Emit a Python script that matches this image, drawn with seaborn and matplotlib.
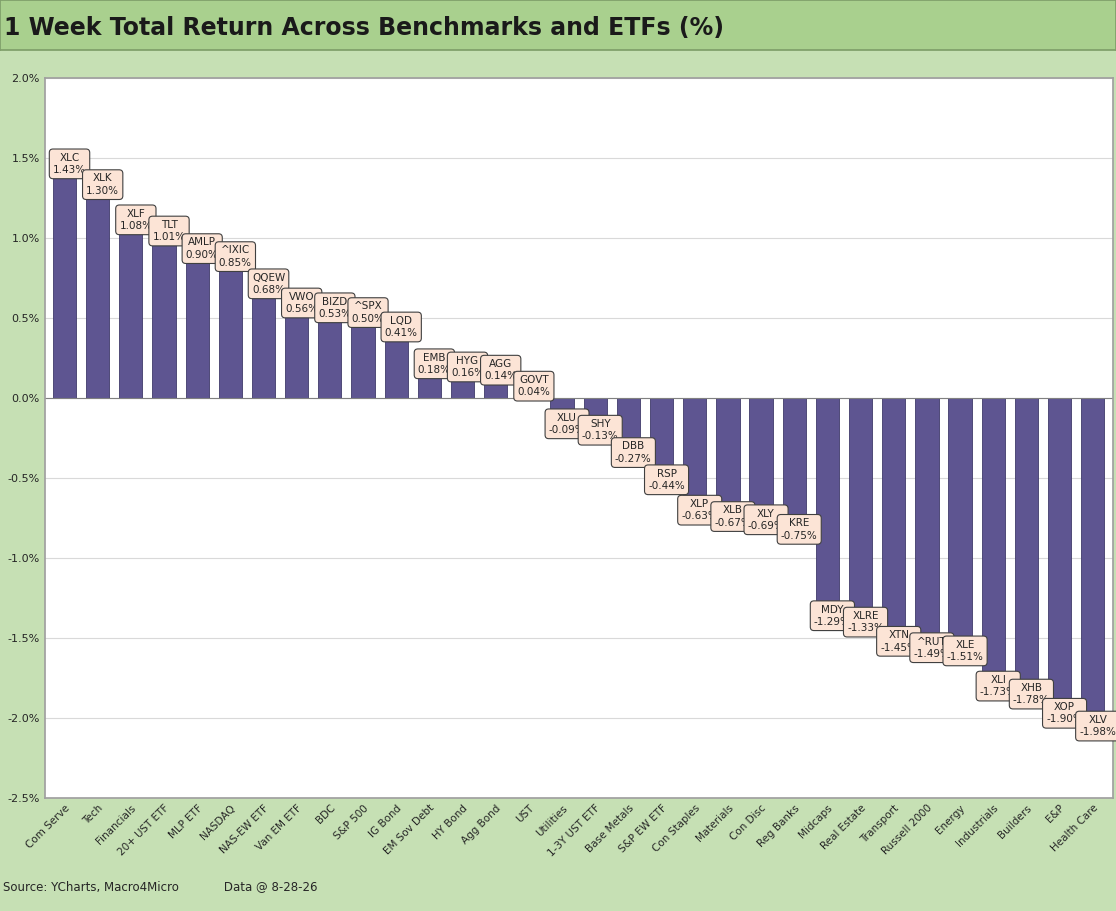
import numpy as np
import pandas as pd
import seaborn as sns
import matplotlib.pyplot as plt
from matplotlib.ticker import FuncFormatter

categories = ["Com Serve", "Tech", "Financials", "20+ UST ETF", "MLP ETF", "NASDAQ",
              "NAS-EW ETF", "Van EM ETF", "BDC", "S&P 500", "IG Bond", "EM Sov Debt",
              "HY Bond", "Agg Bond", "UST", "Utilities", "1-3Y UST ETF", "Base Metals",
              "S&P EW ETF", "Con Staples", "Materials", "Con Disc", "Reg Banks", "Midcaps",
              "Real Estate", "Transport", "Russell 2000", "Energy", "Industrials",
              "Builders", "E&P", "Health Care"]
tickers = ["XLC", "XLK", "XLF", "TLT", "AMLP", "^IXIC", "QQEW", "VWO", "BIZD", "^SPX",
           "LQD", "EMB", "HYG", "AGG", "GOVT", "XLU", "SHY", "DBB", "RSP", "XLP", "XLB",
           "XLY", "KRE", "MDY", "XLRE", "XTN", "^RUT", "XLE", "XLI", "XHB", "XOP", "XLV"]
returns = [1.43, 1.30, 1.08, 1.01, 0.90, 0.85, 0.68, 0.56, 0.53, 0.50, 0.41, 0.18,
           0.16, 0.14, 0.04, -0.09, -0.13, -0.27, -0.44, -0.63, -0.67, -0.69, -0.75,
           -1.29, -1.33, -1.45, -1.49, -1.51, -1.73, -1.78, -1.90, -1.98]

df = pd.DataFrame({"category": categories, "ticker": tickers, "ret": returns})

sns.set_theme(style="white")
plt.rcParams["font.family"] = ["DejaVu Sans"]

fig = plt.figure(figsize=(11.16, 9.11), dpi=100)
fig.patch.set_facecolor("#c6e0b4")

# title bar
tax = fig.add_axes([0, 0.945, 1, 0.055])
tax.set_facecolor("#a9d08e")
tax.set_xticks([]); tax.set_yticks([])
for s in tax.spines.values():
    s.set_color("#7f9f6a")
tax.text(0.004, 0.45, "1 Week Total Return Across Benchmarks and ETFs (%)",
         fontsize=17, fontweight="bold", va="center", ha="left", color="#1a1a1a")

ax = fig.add_axes([0.040, 0.124, 0.957, 0.790])
sns.barplot(data=df, x="category", y="ret", color="#5e5591", saturation=1,
            width=0.7, ax=ax, edgecolor="#3f3a6a", linewidth=0.6)
ax.set_facecolor("white")
ax.set_ylim(-2.5, 2.0)
ax.set_xlim(-0.6, len(categories) - 0.4)
ax.set_yticks(np.arange(-2.5, 2.01, 0.5))
ax.yaxis.set_major_formatter(FuncFormatter(lambda v, p: f"{v:.1f}%"))
ax.grid(axis="y", color="#d9d9d9", linewidth=0.8)
ax.set_axisbelow(True)
ax.axhline(0, color="#808080", linewidth=0.8)
ax.set_xlabel(""); ax.set_ylabel("")
ax.tick_params(axis="y", labelsize=8, length=0)
ax.tick_params(axis="x", labelsize=7.5, length=0)
plt.setp(ax.get_xticklabels(), rotation=45, ha="right", rotation_mode="anchor")
for s in ax.spines.values():
    s.set_color("#a0a0a0")

for i, (t, v) in enumerate(zip(tickers, returns)):
    if v >= 0:
        ax.annotate(f"{t}\n{v:.2f}%", (i + 0.15, v), xytext=(0, -4), textcoords="offset points",
                    ha="center", va="bottom", fontsize=7.5, linespacing=1.3,
                    bbox=dict(boxstyle="round,pad=0.35", fc="#fce4d6", ec="#404040", lw=0.8))
    else:
        ax.annotate(f"{t}\n{v:.2f}%", (i + 0.15, v), xytext=(0, 0), textcoords="offset points",
                    ha="center", va="top", fontsize=7.5, linespacing=1.3,
                    bbox=dict(boxstyle="round,pad=0.35", fc="#fce4d6", ec="#404040", lw=0.8))

fig.text(0.003, 0.020, "Source: YCharts, Macro4Micro            Data @ 8-28-26",
         fontsize=8.5, ha="left", va="bottom")

fig.savefig("out.png", dpi=100, facecolor=fig.get_facecolor())
